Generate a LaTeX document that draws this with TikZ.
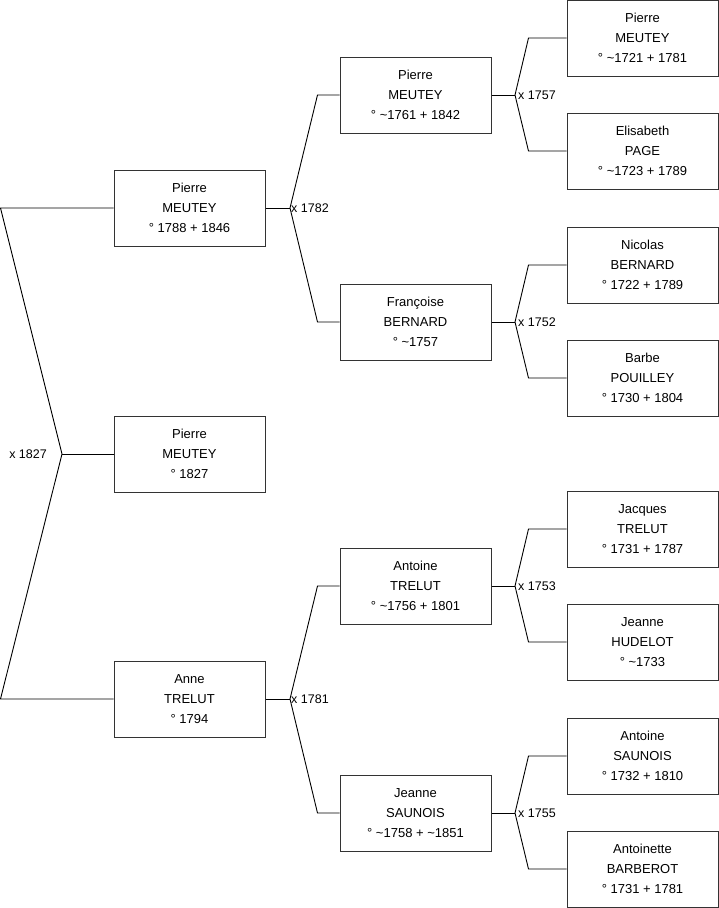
\documentclass[tikz,border=0pt]{standalone}
\usepackage{fontspec}
\setmainfont{Liberation Sans}
\usetikzlibrary{positioning,calc}

\begin{document}
\begin{tikzpicture}[
  x=1pt, y=-1pt,
  person/.style={draw=black!80, line width=1pt, fill=white, align=center,
                 minimum width=151pt, minimum height=76pt, inner sep=0pt,
                 font=\fontsize{13}{20}\selectfont},
  link/.style={draw=black, line width=0.9pt},
  wedlock/.style={font=\fontsize{12.5}{15}\selectfont, inner sep=1pt},
]
\useasboundingbox (0,0) rectangle (719,908);

%% ── COLUMN 0: child ─────────────────────────────────────────────────────────
\node[person] (kid) at (189.5,454) {Pierre\\MEUTEY\\° 1827};

%% ── COLUMN 1: parents ───────────────────────────────────────────────────────
\node[person] (p1)  at (189.5,208) {Pierre\\MEUTEY\\° 1788 + 1846};
\node[person] (m1)  at (189.5,699) {Anne\\TRELUT\\° 1794};

%% ── COLUMN 2: grandparents ──────────────────────────────────────────────────
\node[person] (pp)  at (415.5,95)  {Pierre\\MEUTEY\\° \textasciitilde 1761 + 1842};
\node[person] (pm)  at (415.5,322) {Françoise\\BERNARD\\° \textasciitilde 1757};
\node[person] (mp)  at (415.5,586) {Antoine\\TRELUT\\° \textasciitilde 1756 + 1801};
\node[person] (mm)  at (415.5,813) {Jeanne\\SAUNOIS\\° \textasciitilde 1758 + \textasciitilde 1851};

%% ── COLUMN 3: great-grandparents ────────────────────────────────────────────
\node[person] (ppp) at (642.5,38)  {Pierre\\MEUTEY\\° \textasciitilde 1721 + 1781};
\node[person] (ppm) at (642.5,151) {Elisabeth\\PAGE\\° \textasciitilde 1723 + 1789};
\node[person] (pmp) at (642.5,265) {Nicolas\\BERNARD\\° 1722 + 1789};
\node[person] (pmm) at (642.5,378) {Barbe\\POUILLEY\\° 1730 + 1804};
\node[person] (mpp) at (642.5,529) {Jacques\\TRELUT\\° 1731 + 1787};
\node[person] (mpm) at (642.5,642) {Jeanne\\HUDELOT\\° \textasciitilde 1733};
\node[person] (mmp) at (642.5,756) {Antoine\\SAUNOIS\\° 1732 + 1810};
\node[person] (mmm) at (642.5,869) {Antoinette\\BARBEROT\\° 1731 + 1781};

%% ── JUNCTIONS ───────────────────────────────────────────────────────────────
\coordinate (j0) at (62,454);
\coordinate (a0) at (0.5,208);
\coordinate (b0) at (0.5,699);
\coordinate (j1) at (290,208);
\coordinate (j2) at (290,699);
\coordinate (j3) at (515,95);
\coordinate (j4) at (515,322);
\coordinate (j5) at (515,586);
\coordinate (j6) at (515,813);

%% ── CONNECTORS ──────────────────────────────────────────────────────────────
\draw[link] (kid.west) -- (j0);
\draw[link] (p1.west) -- (a0) -- (j0) -- (b0) -- (m1.west);
\node[wedlock, anchor=east] at ($(j0)+(-14,0)$) {x 1827};

\draw[link] (p1.east) -- (j1);
\draw[link] (pp.west) -- ++(-22,0) -- (j1) -- ($(pm.west)+(-22,0)$) -- (pm.west);
\node[wedlock, anchor=west] at (j1) {x 1782};

\draw[link] (m1.east) -- (j2);
\draw[link] (mp.west) -- ++(-22,0) -- (j2) -- ($(mm.west)+(-22,0)$) -- (mm.west);
\node[wedlock, anchor=west] at (j2) {x 1781};

\draw[link] (pp.east) -- (j3);
\draw[link] (ppp.west) -- ++(-38,0) -- (j3) -- ($(ppm.west)+(-38,0)$) -- (ppm.west);
\node[wedlock, anchor=west] at ($(j3)+(2,0)$) {x 1757};

\draw[link] (pm.east) -- (j4);
\draw[link] (pmp.west) -- ++(-38,0) -- (j4) -- ($(pmm.west)+(-38,0)$) -- (pmm.west);
\node[wedlock, anchor=west] at ($(j4)+(2,0)$) {x 1752};

\draw[link] (mp.east) -- (j5);
\draw[link] (mpp.west) -- ++(-38,0) -- (j5) -- ($(mpm.west)+(-38,0)$) -- (mpm.west);
\node[wedlock, anchor=west] at ($(j5)+(2,0)$) {x 1753};

\draw[link] (mm.east) -- (j6);
\draw[link] (mmp.west) -- ++(-38,0) -- (j6) -- ($(mmm.west)+(-38,0)$) -- (mmm.west);
\node[wedlock, anchor=west] at ($(j6)+(2,0)$) {x 1755};
\end{tikzpicture}
\end{document}
